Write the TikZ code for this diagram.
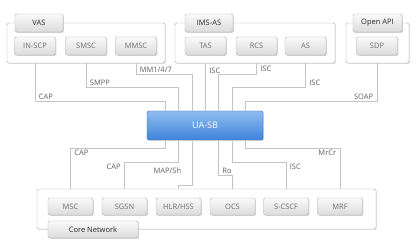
\documentclass[tikz,border=0pt]{standalone}
\usepackage{fontspec}
\setmainfont{Open Sans}
\usetikzlibrary{calc,shadows}

\definecolor{linkgray}{HTML}{C4C4C4}
\definecolor{framegray}{HTML}{ABABAB}
\definecolor{unitborder}{HTML}{B4B4B4}
\definecolor{unittext}{HTML}{6E6E6E}
\definecolor{tagtext}{HTML}{5E5E5E}
\definecolor{sbtop}{HTML}{8FBDF1}
\definecolor{sbbottom}{HTML}{3F83DB}

\begin{document}
\begin{tikzpicture}[x = 1pt, y = -1pt, font = \fontsize{7.5}{9}\selectfont,
    group/.style = {draw = framegray, fill = white, rounded corners = 1.5pt,
        drop shadow = {shadow xshift = 0.8pt, shadow yshift = -0.8pt, opacity = 0.25}},
    unit/.style = {draw = unitborder, rounded corners = 1.5pt, top color = white!96!gray,
        bottom color = gray!28, text = unittext, minimum width = 41pt, minimum height = 18pt,
        inner sep = 0pt, drop shadow = {shadow xshift = 0.8pt, shadow yshift = -0.8pt, opacity = 0.35}},
    tab/.style = {unit, text = black!85, minimum width = 48pt},
    core/.style = {unit, minimum width = 45pt, minimum height = 17pt},
    link/.style = {draw = linkgray, line width = 0.8pt},
    tag/.style = {text = tagtext, inner xsep = 3.5pt, inner ysep = 1.5pt}]

    \useasboundingbox (0,0) rectangle (420,240);

    % service groups on top, core network below
    \node[group, minimum width = 158pt, minimum height = 40pt] (vas) at (86,43) {};
    \node[group, minimum width = 160pt, minimum height = 40pt] (ims) at (255,43) {};
    \node[group, minimum width = 63pt, minimum height = 40pt] (api) at (377.5,43) {};
    \node[group, minimum width = 339pt, minimum height = 40pt] (cn) at (206.5,209) {};

    \node[tab] at (39,23) {VAS};
    \node[tab] at (209,23) {IMS-AS};
    \node[tab, minimum width = 49pt] at (377.5,23) {Open API};
    \node[tab, minimum width = 90pt, minimum height = 17pt] at (93,229.5) {Core Network};

    \foreach \name/\x/\txt in {inscp/35/IN-SCP, smsc/86/SMSC, mmsc/136/MMSC,
        tas/205.5/TAS, rcs/256.5/RCS, as/305.5/AS, sdp/377/SDP}
        \node[unit] (\name) at (\x,46) {\txt};

    \foreach \name/\x/\txt in {msc/70.5/MSC, sgsn/124.5/SGSN, hlr/178.5/{HLR/HSS},
        ocs/232.5/OCS, scscf/286/S-CSCF, mrf/340/MRF}
        \node[core] (\name) at (\x,206.5) {\txt};

    \node[draw = sbbottom!85!black, rounded corners = 1.5pt, top color = sbtop, bottom color = sbbottom,
        text = white, font = \fontsize{9}{11}\selectfont, minimum width = 116pt, minimum height = 29pt,
        drop shadow = {shadow xshift = 0.8pt, shadow yshift = -0.8pt, opacity = 0.3}] (uasb) at (205,125.5) {UA-SB};

    % interfaces into the bus
    \draw[link] (inscp |- vas.south) |- ($(uasb.north)+(-40,-9)$) node[tag, pos = .5, above right] {CAP}
        -- ($(uasb.north)+(-40,0)$);
    \draw[link] (smsc |- vas.south) |- ($(uasb.north)+(-26.5,-23)$) node[tag, pos = .5, above right] {SMPP}
        -- ($(uasb.north)+(-26.5,0)$);
    \draw[link] (mmsc |- vas.south) |- ($(uasb.north)+(-13,-36)$) node[tag, pos = .5, above right] {MM1/4/7}
        -- ($(uasb.north)+(-13,0)$);
    \draw[link] (tas |- ims.south) -- (tas |- uasb.north) node[tag, pos = .15, right] {ISC};
    \draw[link] (rcs |- ims.south) |- ($(uasb.north)+(13.5,-36)$) node[tag, pos = .25, right] {ISC}
        -- ($(uasb.north)+(13.5,0)$);
    \draw[link] (as |- ims.south) |- ($(uasb.north)+(27,-23)$) node[tag, pos = .5, above right] {ISC}
        -- ($(uasb.north)+(27,0)$);
    \draw[link] (sdp |- api.south) |- ($(uasb.north)+(40.5,-9)$) node[tag, pos = .5, above left] {SOAP}
        -- ($(uasb.north)+(40.5,0)$);

    \draw[link] ($(uasb.south)+(-40,0)$) -- ++(0,8) -| (msc |- cn.north) node[tag, pos = .5, below right] {CAP};
    \draw[link] ($(uasb.south)+(-26.5,0)$) -- ++(0,22) -| (sgsn |- cn.north) node[tag, pos = .5, below left] {CAP};
    \draw[link] ($(uasb.south)+(-13,0)$) -- ++(0,45) node[tag, pos = .67, left = 7pt] {MAP/Sh} -| (hlr |- cn.north);
    \draw[link] ($(uasb.south)+(13.5,0)$) -- ++(0,35) node[tag, pos = 1, above right] {Ro} -| (ocs |- cn.north);
    \draw[link] ($(uasb.south)+(27,0)$) -- ++(0,22) -| (scscf |- cn.north) node[tag, pos = .5, below right] {ISC};
    \draw[link] ($(uasb.south)+(40.5,0)$) -- ++(0,8) -| (mrf |- cn.north) node[tag, pos = .5, below left] {MrCr};
\end{tikzpicture}
\end{document}
